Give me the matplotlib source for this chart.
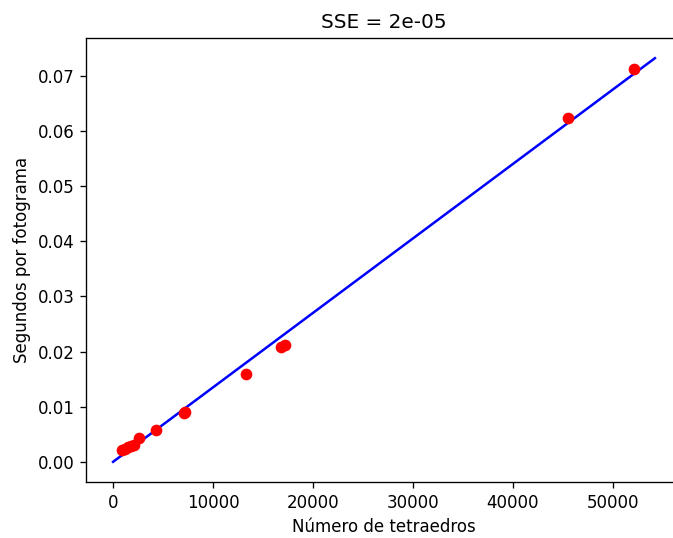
import matplotlib
matplotlib.use("Agg")
import matplotlib.pyplot as plt

# measured points (number of tetrahedra, seconds per frame)
n_tetra = [900, 1200, 1500, 1800, 2100, 2600, 4300, 7100, 7200, 13300, 16800, 17200, 45500, 52100]
seconds = [0.0022, 0.0024, 0.0026, 0.0028, 0.0030, 0.0043, 0.0058, 0.0089, 0.0091,
           0.0159, 0.0208, 0.0212, 0.0624, 0.0713]

# fitted line endpoints
fit_x = [0, 54200]
fit_y = [0.0, 0.0732]

dpi = 120
W, H = 673, 538
fig = plt.figure(figsize=(W / dpi, H / dpi), dpi=dpi)
# the original screenshot is cropped on the right, so the axes run past the edge
ax = fig.add_axes([86 / W, (H - 482) / H, 596 / W, 444 / H])

ax.plot(fit_x, fit_y, "b-")
ax.plot(n_tetra, seconds, "ro")
ax.set_title("SSE = 2e-05")
ax.set_xlabel("Número de tetraedros")
ax.set_ylabel("Segundos por fotograma")
ax.set_xticks([0, 10000, 20000, 30000, 40000, 50000])
ax.set_xlim(-2710, 56910)
ax.spines["right"].set_visible(False)

fig.savefig("out.png", dpi=dpi)
